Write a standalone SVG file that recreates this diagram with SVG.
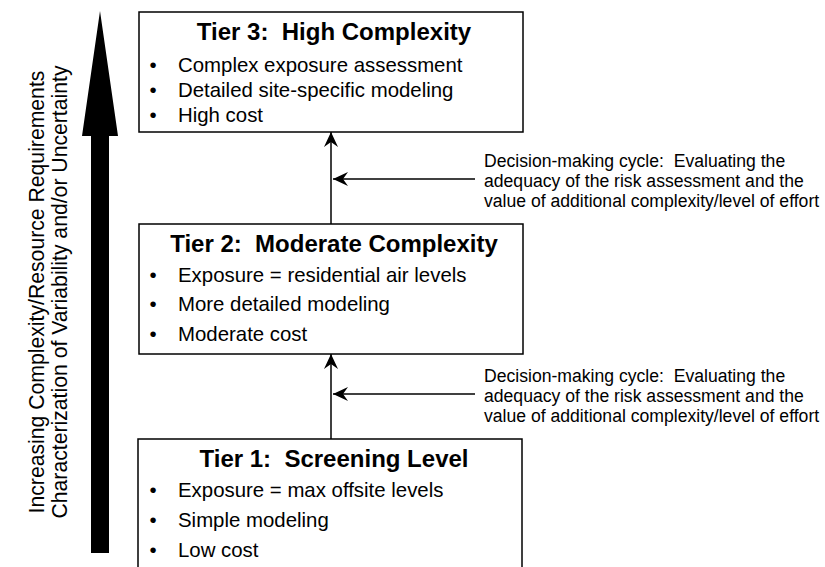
<svg xmlns="http://www.w3.org/2000/svg" width="825" height="567" viewBox="0 0 825 567">
<style>
.box{fill:#fff;stroke:#000;stroke-width:1.5}
.title{font-family:"Liberation Sans",Arial,sans-serif;font-weight:bold;font-size:24px;text-anchor:middle;fill:#000;white-space:pre}
.item{font-family:"Liberation Sans",Arial,sans-serif;font-size:20.4px;fill:#000}
.dot{font-family:"Liberation Sans",Arial,sans-serif;font-size:20.4px;fill:#000;text-anchor:middle}
.note{font-family:"Liberation Sans",Arial,sans-serif;font-size:17.6px;fill:#000;white-space:pre}
.side{font-family:"Liberation Sans",Arial,sans-serif;font-size:21.2px;fill:#000;text-anchor:middle}
.conn{stroke:#000;stroke-width:1.5;fill:none;marker-end:url(#ah)}
</style>
<defs>
<marker id="ah" viewBox="-16 -8 17 16" refX="0" refY="0" markerWidth="17" markerHeight="16" markerUnits="userSpaceOnUse" orient="auto">
<path d="M0,0 L-15,-7 L-10,0 L-15,7 Z" fill="#000"/>
</marker>
</defs>
<rect width="825" height="567" fill="#fff"/>

<g id="big-arrow">
<polygon points="91,553 109,553 109,136 118,136 100,11 82,136 91,136" fill="#000"/>
<text class="side" transform="translate(44,292) rotate(-90)">Increasing Complexity/Resource Requirements</text>
<text class="side" transform="translate(67,292) rotate(-90)">Characterization of Variability and/or Uncertainty</text>
</g>

<g id="connectors">
<line class="conn" x1="331" y1="224" x2="331" y2="132"/>
<line class="conn" x1="475" y1="179" x2="333" y2="179"/>
<line class="conn" x1="331" y1="439" x2="331" y2="354"/>
<line class="conn" x1="475" y1="394" x2="333" y2="394"/>
</g>

<g id="tier3">
<rect class="box" x="139" y="12" width="384" height="120"/>
<text class="title" x="334" y="40" xml:space="preserve">Tier 3:  High Complexity</text>
<text class="dot" x="153" y="72">•</text><text class="item" x="178" y="72">Complex exposure assessment</text>
<text class="dot" x="153" y="97">•</text><text class="item" x="178" y="97">Detailed site-specific modeling</text>
<text class="dot" x="153" y="122">•</text><text class="item" x="178" y="122">High cost</text>
</g>

<g id="tier2">
<rect class="box" x="139" y="224" width="384" height="130"/>
<text class="title" x="334" y="252" xml:space="preserve">Tier 2:  Moderate Complexity</text>
<text class="dot" x="153" y="282">•</text><text class="item" x="178" y="282">Exposure = residential air levels</text>
<text class="dot" x="153" y="311">•</text><text class="item" x="178" y="311">More detailed modeling</text>
<text class="dot" x="153" y="341">•</text><text class="item" x="178" y="341">Moderate cost</text>
</g>

<g id="tier1">
<rect class="box" x="138" y="439" width="384" height="140"/>
<text class="title" x="334" y="467" xml:space="preserve">Tier 1:  Screening Level</text>
<text class="dot" x="153" y="497">•</text><text class="item" x="178" y="497">Exposure = max offsite levels</text>
<text class="dot" x="153" y="527">•</text><text class="item" x="178" y="527">Simple modeling</text>
<text class="dot" x="153" y="557">•</text><text class="item" x="178" y="557">Low cost</text>
</g>

<g id="note1">
<text class="note" x="484" y="167" xml:space="preserve">Decision-making cycle:  Evaluating the</text>
<text class="note" x="484" y="187">adequacy of the risk assessment and the</text>
<text class="note" x="484" y="207">value of additional complexity/level of effort</text>
</g>

<g id="note2">
<text class="note" x="484" y="382" xml:space="preserve">Decision-making cycle:  Evaluating the</text>
<text class="note" x="484" y="402">adequacy of the risk assessment and the</text>
<text class="note" x="484" y="422">value of additional complexity/level of effort</text>
</g>
</svg>
